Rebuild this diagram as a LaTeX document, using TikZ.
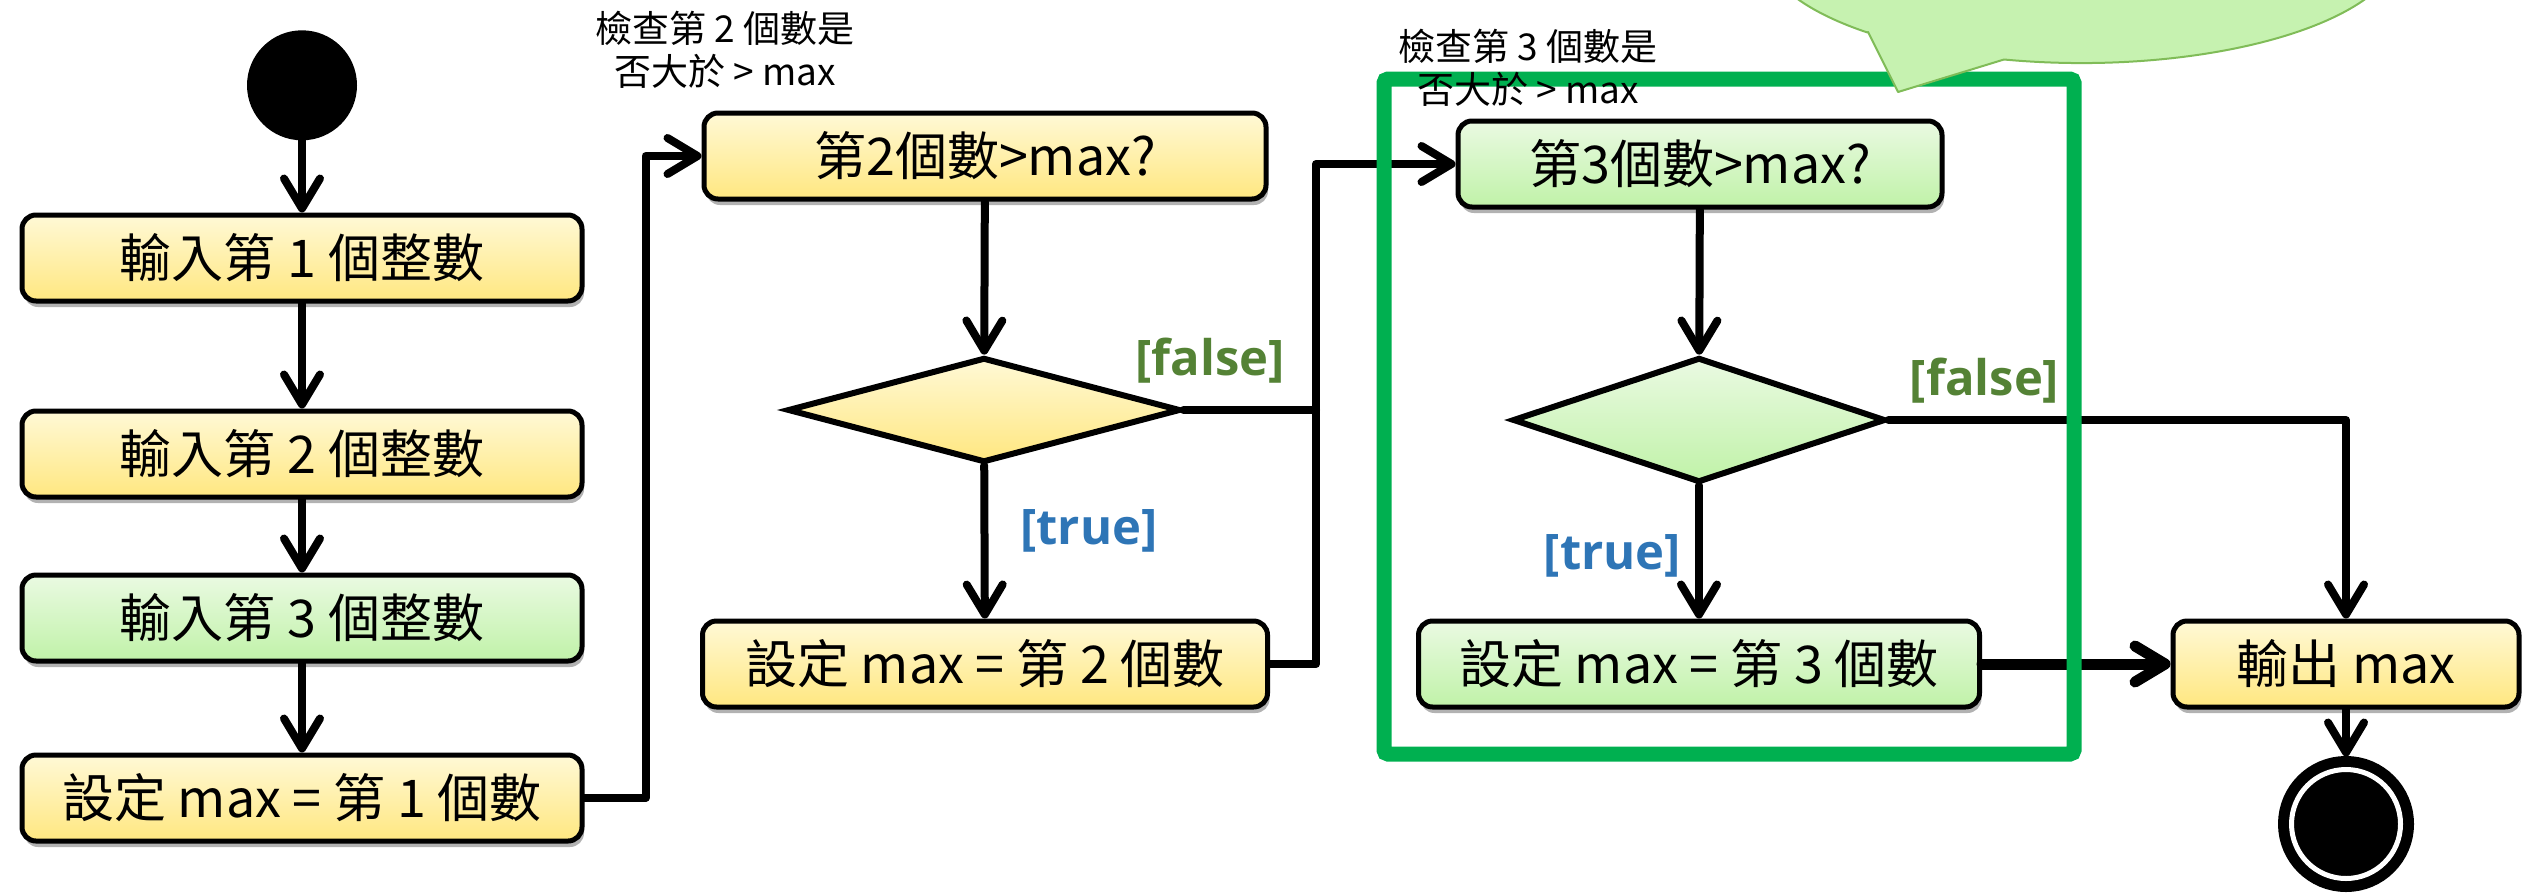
\documentclass[tikz,border=0pt]{standalone}
\usepackage{fontspec}
\setmainfont{Noto Sans CJK TC}
\newfontfamily\lblfont{Open Sans}
\usetikzlibrary{arrows.meta,positioning,shapes.geometric,shadows}
\definecolor{ytop}{RGB}{255,249,214}
\definecolor{ybot}{RGB}{255,231,128}
\definecolor{gtop}{RGB}{234,250,226}
\definecolor{gbot}{RGB}{192,242,168}
\definecolor{fgreen}{RGB}{84,130,53}
\definecolor{tblue}{RGB}{46,117,182}
\definecolor{framegreen}{RGB}{0,176,80}
\definecolor{bubblefill}{RGB}{198,242,176}
\definecolor{bubbleline}{RGB}{128,188,88}

\begin{document}
\begin{tikzpicture}[x=1pt,y=-1pt,>={Straight Barb[length=30pt,width=36pt,round]},
	act node/.style={rectangle,rounded corners=14pt,draw,line width=5pt,minimum height=86pt,
		font=\fontsize{52}{60}\selectfont,
		drop shadow={shadow xshift=2pt,shadow yshift=-6pt,opacity=.3,fill=black}},
	yellow node/.style={act node,top color=ytop,bottom color=ybot},
	green node/.style={act node,top color=gtop,bottom color=gbot},
	cond node/.style={diamond,draw,line width=6pt,inner sep=0pt},
	note node/.style={align=center,inner sep=0pt,font=\fontsize{37}{43}\selectfont},
	guard/.style={inner sep=0pt,font=\lblfont\bfseries\fontsize{49}{54}\selectfont},
	flow/.style={->,line width=8pt,line cap=round,line join=round}]
	\useasboundingbox (0,0) rectangle (2526,892);

	% left column
	\node[yellow node,minimum width=560pt] (2) at (302,258) {輸入第 1 個整數};
	\node[circle,fill=black,minimum size=110pt,inner sep=0pt] (1) [above=72pt of 2] {};
	\node[yellow node,minimum width=560pt] (3) at (302,454) {輸入第 2 個整數};
	\node[green node,minimum width=560pt] (4) at (302,618) {輸入第 3 個整數};
	\node[yellow node,minimum width=560pt] (5) at (302,798) {設定 max = 第 1 個數};

	% check the 2nd number
	\node[yellow node,minimum width=562pt] (6) at (985,156) {第2個數>max?};
	\node[cond node,top color=ytop,bottom color=ybot,minimum width=393pt,minimum height=105pt] (7) at (984,410) {};
	\node[yellow node,minimum width=565pt] (8) at (985,664) {設定 max = 第 2 個數};
	\coordinate (j2) at (1316,410);

	% check the 3rd number
	\node[green node,minimum width=484pt] (9) at (1700,164) {第3個數>max?};
	\node[cond node,top color=gtop,bottom color=gbot,minimum width=373pt,minimum height=125pt] (10) at (1699,420) {};
	\node[green node,minimum width=561pt] (11) at (1699,664) {設定 max = 第 3 個數};
	\node[yellow node,minimum width=346pt] (12) at (2346,664) {輸出 max};
	\node[circle,fill=black,draw=black,line width=11pt,double=white,double distance=5pt,
		minimum size=109pt,inner sep=0pt,outer sep=13pt] (13) [below=47pt of 12] {};

	\draw[flow] (1) -- (2);
	\draw[flow] (2) -- (3);
	\draw[flow] (3) -- (4);
	\draw[flow] (4) -- (5);
	\draw[flow] (5.east) -- ++(61,0) |- (6.west);
	\draw[flow] (6) -- (7);
	\draw[flow] (7) -- node[guard,text=tblue,right=32pt,pos=.43] (t1) {[true]} (8);
	\draw[flow,-] (7.east) -- node[guard,text=fgreen,above=23pt,pos=.2] (f1) {[false]} (j2);
	\draw[flow] (8.east) -| (j2) |- (9.west);
	\draw[flow] (9) -- (10);
	\draw[flow] (10) -- node[guard,text=tblue,left=14pt,pos=.53] (t2) {[true]} (11);
	\draw[flow] (10.east) -| node[guard,text=fgreen,above=13pt,pos=.105] (f2) {[false]} (12.north);
	\draw[flow,line width=11pt] (11) -- (12);
	\draw[flow] (12) -- (13);

	% frame round the 3rd check
	\draw[framegreen,line width=15pt,rounded corners=4pt] (1384,79) rectangle (2074,754);

	\node[note node] (a1) at (725,50) {檢查第 2 個數是\\否大於 > max};
	\node[note node] (a2) at (1528,68) {檢查第 3 個數是\\否大於 > max};

	% speech bubble, cut at the top
	\begin{scope}
		\clip (0,0) rectangle (2526,892);
		\filldraw[fill=bubblefill,draw=bubbleline,line width=2pt,line join=round]
			(1868,32) -- (1898,92) -- (2004,59.5)
			arc[start angle=104,end angle=-228,x radius=320,y radius=119] -- cycle;
	\end{scope}
\end{tikzpicture}
\end{document}
